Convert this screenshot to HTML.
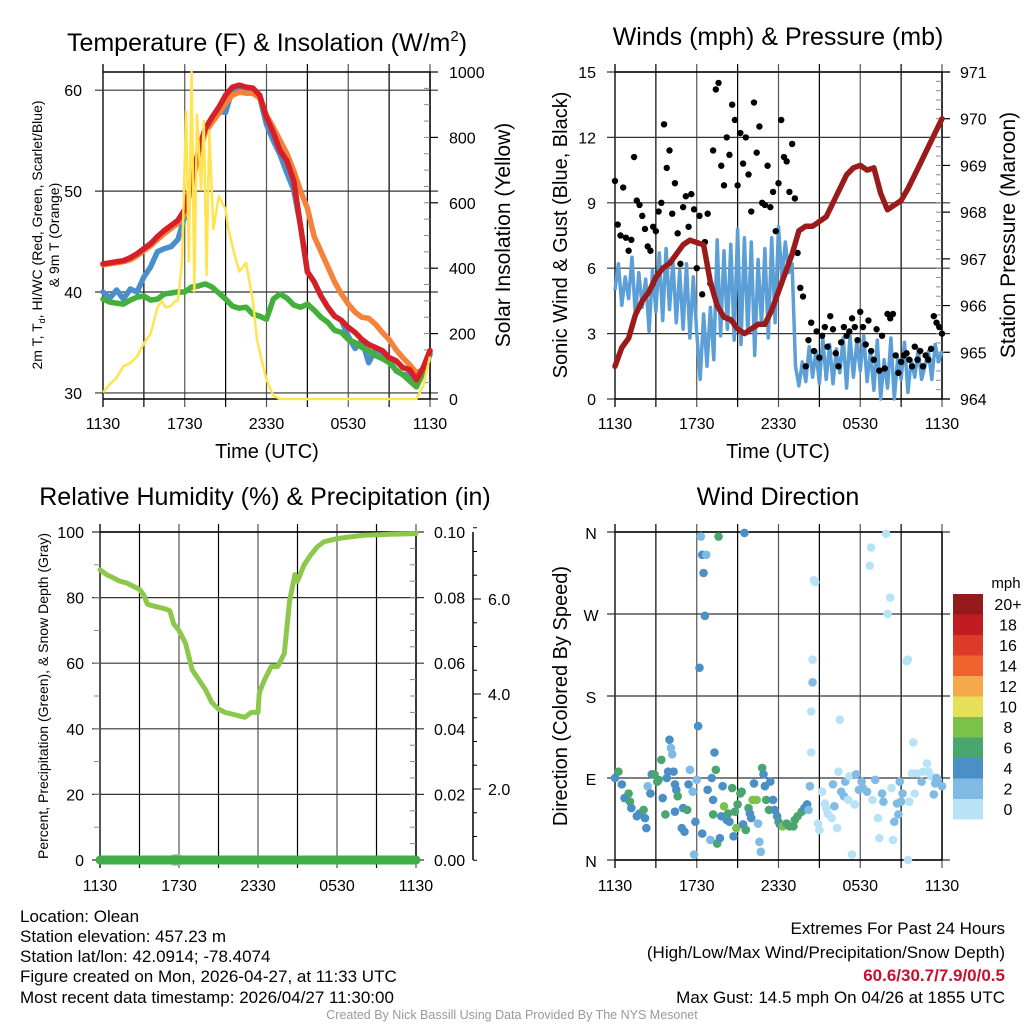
<!DOCTYPE html>
<html><head><meta charset="utf-8">
<style>
html,body{margin:0;padding:0;background:#fff;}
svg{display:block;font-family:"Liberation Sans",Arial,sans-serif;}
</style></head>
<body>
<svg id="chart" width="1024" height="1024" viewBox="0 0 1024 1024" xmlns="http://www.w3.org/2000/svg">
<rect x="0" y="0" width="1024" height="1024" fill="#fff"/>
<g id="layer"></g>
<!-- titles -->
<text x="267" y="51" font-size="25" text-anchor="middle">Temperature (F) &amp; Insolation (W/m<tspan font-size="15" dy="-10">2</tspan><tspan dy="10">)</tspan></text>
<text x="778" y="45" font-size="25" text-anchor="middle">Winds (mph) &amp; Pressure (mb)</text>
<text x="265" y="505" font-size="25" text-anchor="middle">Relative Humidity (%) &amp; Precipitation (in)</text>
<text x="778" y="505" font-size="25" text-anchor="middle">Wind Direction</text>
<!-- axis titles -->
<text transform="translate(42,235) rotate(-90)" font-size="14" text-anchor="middle">2m T, T<tspan font-size="9" dy="3">d</tspan><tspan dy="-3">, HI/WC (Red, Green, Scarlet/Blue)</tspan></text>
<text transform="translate(59,235) rotate(-90)" font-size="14" text-anchor="middle">&amp; 9m T (Orange)</text>
<text transform="translate(510,235) rotate(-90)" font-size="21" text-anchor="middle">Solar Insolation (Yellow)</text>
<text x="267" y="458" font-size="20" text-anchor="middle">Time (UTC)</text>
<text transform="translate(567,235) rotate(-90)" font-size="20" text-anchor="middle">Sonic Wind &amp; Gust (Blue, Black)</text>
<text transform="translate(1015,235) rotate(-90)" font-size="21" text-anchor="middle">Station Pressure (Maroon)</text>
<text x="778" y="458" font-size="20" text-anchor="middle">Time (UTC)</text>
<text transform="translate(48,696) rotate(-90)" font-size="14" text-anchor="middle">Percent, Precipitation (Green), &amp; Snow Depth (Gray)</text>
<text transform="translate(567,696) rotate(-90)" font-size="20" text-anchor="middle">Direction (Colored By Speed)</text>
<!-- footer -->
<g font-size="17">
<text x="20" y="922">Location: Olean</text>
<text x="20" y="942">Station elevation: 457.23 m</text>
<text x="20" y="962">Station lat/lon: 42.0914; -78.4074</text>
<text x="20" y="982">Figure created on Mon, 2026-04-27, at 11:33 UTC</text>
<text x="20" y="1003">Most recent data timestamp: 2026/04/27 11:30:00</text>
</g>
<g font-size="17" text-anchor="end">
<text x="1005" y="934">Extremes For Past 24 Hours</text>
<text x="1005" y="958">(High/Low/Max Wind/Precipitation/Snow Depth)</text>
<text x="1005" y="981" fill="#c8102e" font-weight="bold">60.6/30.7/7.9/0/0.5</text>
<text x="1005" y="1003">Max Gust: 14.5 mph On 04/26 at 1855 UTC</text>
</g>
<text x="512" y="1019" font-size="12.5" fill="#999" text-anchor="middle">Created By Nick Bassill Using Data Provided By The NYS Mesonet</text>
</svg>
<script>
// ---------- data ----------
const timeTicks = ["1130","1730","2330","0530","1130"];
const tempHours = [0,0.5,1,1.5,2,2.5,3,3.5,4,4.5,5,5.5,6,6.5,7,7.5,8,8.5,9,9.5,10,10.5,11,11.5,12,12.5,13,13.5,14,14.5,15,15.5,16,16.5,17,17.5,18,18.5,19,19.5,20,20.5,21,21.5,22,22.5,23,23.5,24];
const tempRed = [42.8,42.9,43,43.1,43.4,43.8,44.3,44.8,45.5,46.1,46.6,47.1,48.2,51,54,56.2,57.3,58.3,59.5,60.3,60.5,60.3,60.2,59.5,57.3,55.8,54,53,51,46.5,42,41,39.6,38.5,37.6,37.2,36.5,36,35.3,34.8,34.5,34.2,33.5,33.2,32.5,32.3,31.3,32.5,34.2];
const tempOrange = [42.7,42.8,42.9,43,43.2,43.6,44.1,44.6,45.2,45.8,46.3,46.8,47.8,50.5,53.5,55.8,56.8,57.7,58.7,59.5,59.8,59.7,59.7,59.2,57.5,56.3,55,53.7,52,50,48.3,45.5,44,42.5,41,39.8,38.8,38,37.5,37.4,36.8,36,35.3,34.3,33.5,32.8,32,32.3,34.2];
const tempBlue = [40,39.4,40.2,39.3,40.3,40,41.5,42.5,44,44.3,44.5,45.2,47.5,50.8,53.8,56,57,57.9,57.8,60.1,60.3,60.1,60,59.3,56.6,55,53.6,51.8,50.1,46.5,42,41,39.6,38.5,37.6,37.2,35.6,34.4,35.2,33,34.3,34,33.3,32.2,31.8,31.8,31.2,32,33.8];
const tempGreen = [39.3,39,38.9,38.8,39.2,39.5,39.6,39.2,39.3,39.8,39.9,40,40,40.5,40.6,40.8,40.5,39.9,39.3,38.6,38.4,38.5,37.8,37.6,37.3,39.3,39.8,39.4,38.7,38.5,38.8,38.2,37.5,37,36.2,36,35.3,35,34.5,34.2,33.7,33.4,33,32.3,31.8,31.2,30.6,32,34];
const solarHours = [0,0.5,1,1.5,2,2.5,3,3.5,4,4.3,4.6,5,5.3,5.5,5.8,6.1,6.3,6.5,6.7,6.9,7.2,7.4,7.6,7.8,8.1,8.5,9,9.2,9.6,10,10.5,11,11.3,11.7,12,12.5,13,18,23,23.5,24];
const solarValues = [20,45,65,100,110,130,170,200,280,300,280,285,300,300,420,880,420,1000,330,870,640,850,380,820,520,620,580,520,450,390,416,300,180,110,60,10,0,0,0,40,130];
const gustHours = [];
const gustValues = [10,8,7.5,9.7,7.4,6.8,7.3,11.1,9.1,8.9,8.4,7.8,7.0,6.8,7.9,7.7,8.6,9.0,12.6,10.6,11.4,8.5,9.9,7.6,6.2,8.8,9.3,7.9,9.4,8.7,6.0,8.4,4.8,7.2,8.5,5.3,11.4,14.2,14.5,10.7,9.8,12.0,11.2,13.5,12.8,9.8,12.2,10.8,12.0,10.3,8.6,13.6,11.3,12.5,9.0,8.9,10.7,8.8,9.5,7.7,9.9,12.8,11.1,10.9,9.5,11.7,9.2,6.7,5.1,4.7,1.5,2.7,3.5,2.2,3.1,1.9,2.9,3.3,2.4,3.8,3.2,2.1,1.5,2.6,3.3,2.9,3.1,3.7,3.3,2.7,4.0,3.3,2.5,3.6,2.2,1.8,3.2,1.3,2.9,1.4,3.9,3.7,3.9,2.0,1.2,1.7,2.0,2.1,1.8,1.5,2.4,1.8,2.2,1.5,2.0,1.8,2.3,3.8,3.5,3.3,3.0];
for (let i = 0; i < gustValues.length; i++) gustHours.push(i * 0.2);
const windValues = [5,6.2,4.3,5.6,4.6,6.5,3.8,5.8,4.2,5.5,3.1,5.9,4.0,6.7,3.6,6.9,4.1,6.3,3.5,5.9,3.2,6.2,2.8,5.6,3.0,0.9,3.9,1.5,4.2,1.8,7.3,2.9,6.8,3.2,7.1,2.7,7.8,2.5,7.4,3.0,7.2,2.0,6.4,3.4,6.9,2.8,7.4,3.5,7.9,5.5,7.2,5.8,6.2,1.5,0.6,1.7,0.8,2.4,1.0,2.2,0.7,2.8,0.9,2.5,0.7,2.3,1.2,2.8,0.5,2.9,1.0,2.6,1.3,2.9,0.8,2.2,0.4,2.7,0,1.8,0.5,2.8,0,1.9,0.9,2.6,0.3,1.8,1.0,2.3,0.9,1.5,2.2,0.9,2.5,1.7,2.2];
const windHours = [];
for (let i = 0; i < windValues.length; i++) windHours.push(i * 0.25);
const pressHours = tempHours;
const pressValues = [964.7,965.1,965.3,965.8,966.1,966.3,966.6,966.8,966.9,967.1,967.3,967.4,967.35,967.3,966.5,966.0,965.75,965.7,965.5,965.4,965.5,965.6,965.6,965.9,966.3,966.7,967.1,967.6,967.7,967.7,967.8,967.9,968.2,968.5,968.8,968.95,969.0,968.9,968.95,968.4,968.05,968.15,968.25,968.5,968.8,969.1,969.4,969.7,970.0];
const rhHours = [0,0.5,1,1.5,2,2.5,3,3.3,3.6,4,4.5,5,5.3,5.6,6,6.5,7,7.5,8,8.5,9,9.5,10,10.5,11,11.5,12,12.1,12.5,13,13.5,14,14.4,14.8,15,15.5,16,16.5,17,18,19,20,22,24];
const rhValues = [88.5,87,86,85,84.5,83.5,82.5,81,78,77.5,77,76.5,76,72,70,66,58,55,52,48,46,45,44.5,44,43.5,45,45,51,55,59,59,63,79,87,85,90,93,95.5,97,98,98.5,99,99.3,99.5];
const precipHours = [0,24];
const precipValues = [0,0];
const dirHours = [0,0.25,0.5,1,0.7,1.1,1.2,1.6,1.8,2.1,2.2,2.3,2.4,2.6,2.7,2.9,3.2,3.1,3.4,3.5,3.7,3.8,3.9,4.0,4.1,4.2,4.3,4.4,4.5,4.6,4.4,4.9,5.1,5.0,5.3,5.4,5.5,5.7,5.8,5.9,6.0,6.1,6.2,6.3,6.4,6.7,6.5,6.6,6.4,6.8,7.0,7.1,7.2,7.2,7.3,7.4,7.5,7.6,7.7,7.8,7.9,8.0,8.2,8.3,8.4,8.6,8.7,8.8,8.9,9.0,9.2,9.3,9.5,9.4,9.6,9.8,9.9,10.0,10.1,10.2,10.4,10.5,10.6,10.7,10.8,10.9,11.0,11.1,11.3,11.4,11.6,11.7,11.9,12.0,12.1,12.3,12.6,12.8,13.1,13.2,13.4,13.7,13.9,14.1,14.2,14.3,14.4,14.4,14.5,14.5,14.6,14.7,14.9,15.0,15.2,15.4,15.5,15.6,15.9,16.0,16.1,16.3,16.4,16.5,16.6,16.8,16.9,17.1,17.2,17.4,17.6,17.7,17.9,18.1,18.2,18.5,18.7,18.8,18.9,19.1,19.3,19.4,19.6,19.7,19.9,20.0,20.2,20.3,20.4,20.5,20.7,20.8,20.9,21.0,21.1,21.4,21.5,21.5,21.6,21.8,21.9,22.0,22.2,22.5,22.6,22.9,23.0,23.2,23.4,23.5,23.6,23.7,24.0];
const dirDegrees = [90,97,83,73,68,64,57,48,51,55,46,35,81,73,94,94,88,86,110,68,50,90,97,132,123,116,97,83,77,70,53,35,31,57,55,83,99,75,6,42,88,147,211,355,335,335,315,268,29,77,22,90,50,66,118,99,18,355,24,48,81,59,44,51,42,79,26,53,35,61,73,75,359,39,33,57,51,46,66,84,66,40,20,9,101,94,81,66,55,86,66,55,48,42,39,37,40,37,37,44,48,53,57,61,55,81,163,118,195,220,307,305,40,33,75,62,57,51,46,83,59,35,97,154,75,70,86,66,92,6,61,94,77,86,79,75,323,343,66,88,46,24,73,64,358,270,288,79,22,42,62,50,86,64,73,218,220,0,64,95,129,73,95,86,97,106,97,92,72,84,90,88,81];
const dirSpeeds = [4,6,4,6,4,6,4,4,4,6,4,4,2,4,4,6,6,6,6,4,6,4,4,4,2,2,4,4,4,6,4,4,4,4,6,4,2,2,2,4,2,4,4,2,4,2,4,4,4,4,2,4,6,4,4,6,6,6,4,4,4,8,4,6,4,6,4,6,8,6,6,6,4,4,6,6,4,4,8,4,8,2,2,2,6,4,4,6,6,4,4,4,4,6,4,8,6,6,6,6,6,6,4,4,2,2,0,0,2,0,0,0,0,0,0,0,0,0,0,2,2,0,0,0,2,2,2,0,0,0,0,2,2,2,2,2,0,0,0,2,0,0,2,2,0,0,0,0,0,2,2,2,2,2,2,0,0,0,0,0,0,0,0,2,0,0,0,0,2,2,2,2,2];
const speedColors = ["#b8e3f7","#7fbbe5","#4a8fc6","#4aa66f","#7bc24a","#e6e05a","#f5a94a","#f0622e","#de3a2a","#c01c22","#951a1d"];
const speedLabels = ["0","2","4","6","8","10","12","14","16","18","20+"];
const tempTicks = [30,40,50,60];
const solarTicks = [0,200,400,600,800,1000];
const windTicks = [0,3,6,9,12,15];
const pressTicks = [964,965,966,967,968,969,970,971];
const rhTicks = [0,20,40,60,80,100];
const precipTicks = ["0.00","0.02","0.04","0.06","0.08","0.10"];
const snowTicks = ["2.0","4.0","6.0"];
const dirTicks = ["N","E","S","W","N"];

// ---------- helpers ----------
const NS = "http://www.w3.org/2000/svg";
const layer = document.getElementById('layer');
function mk(tag, attrs, parent) {
  const e = document.createElementNS(NS, tag);
  for (const k in attrs) e.setAttribute(k, attrs[k]);
  (parent || layer).appendChild(e);
  return e;
}
function panel(x0, x1, y0, y1, vmin, vmax) {
  return {
    x: h => x0 + (x1 - x0) * h / 24,
    y: v => y1 - (y1 - y0) * (v - vmin) / (vmax - vmin),
    x0, x1, y0, y1
  };
}
function pathFrom(xs, ys, sx, sy) {
  let d = "";
  for (let i = 0; i < xs.length; i++) d += (i ? "L" : "M") + sx(xs[i]).toFixed(1) + "," + sy(ys[i]).toFixed(1);
  return d;
}
function text(x, y, s, size, anchor) {
  return mk('text', {x: x, y: y, 'font-size': size, 'text-anchor': anchor || 'middle'});
}
function gridAndFrame(P, hVals, name, tickLabelY) {
  for (let i = 0; i <= 8; i++) {
    const x = P.x(i * 3);
    const l = mk('line', {x1: x, x2: x, y1: P.y0 - 8, y2: P.y1 + 8, stroke: (i % 2 ? '#000' : '#555'), 'stroke-width': (i === 0 ? 2 : 1.2)});
    
    
  }
  hVals.forEach(y => {
    const l = mk('line', {x1: P.x0 - 8, x2: P.x1 + 8, y1: y, y2: y, stroke: '#333', 'stroke-width': 1.2});
    
    
  });
  [P.y0, P.y1].forEach(y => {
    const l = mk('line', {x1: P.x0, x2: P.x1, y1: y, y2: y, stroke: '#000', 'stroke-width': 1.5});
    
    
  });
  const r = mk('line', {x1: P.x1, x2: P.x1, y1: P.y0, y2: P.y1, stroke: '#000', 'stroke-width': 1.5});
  
  
  timeTicks.forEach((t, i) => {
    const tx = text(P.x(i * 6), tickLabelY, t, 16);
    tx.textContent = t;
    
    
  });
}
function minorTicks(P, n, side, name) {
  for (let i = 1; i < n; i++) {
    const y = P.y0 + (P.y1 - P.y0) * i / n;
    const x = side === 'right' ? P.x1 : P.x0;
    const l = mk('line', {x1: x - 6, x2: x, y1: y, y2: y, stroke: '#888', 'stroke-width': 1});
    
    
  }
}

// ---------- Temperature panel ----------
const T = panel(103, 430, 72, 399, 29.4, 61.8);
const S = panel(103, 430, 72, 399, 0, 1000);
gridAndFrame(T, tempTicks.map(T.y), 'temperature', 429);
minorTicks(T, 20, 'right', 'insolation');
tempTicks.forEach(v => {
  const t = text(82, T.y(v) + 6, v, 16, 'end'); t.textContent = v;
  
  
});
solarTicks.forEach(v => {
  const t = text(449, S.y(v) + 6, v, 16, 'start'); t.textContent = v;
  
  
  const k = mk('line', {x1: T.x1, x2: T.x1 + 8, y1: S.y(v), y2: S.y(v), stroke: '#000', 'stroke-width': 1.2});
  
  
});
const clipT = mk('clipPath', {id: 'clipT'});
mk('rect', {x: T.x0 - 6, y: T.y0 - 2, width: T.x1 - T.x0 + 12, height: T.y1 - T.y0 + 4}, clipT);
const gT = mk('g', {'clip-path': 'url(#clipT)'});
[[tempBlue, '#4b8fca', 'heat-index-wind-chill-line'], [tempOrange, '#f5823a', 'nine-meter-temperature-line'], [tempGreen, '#44b03c', 'dewpoint-line'], [tempRed, '#d62027', 'two-meter-temperature-line']].forEach(s => {
  const p = mk('path', {d: pathFrom(tempHours, s[0], T.x, T.y), fill: 'none', stroke: s[1], 'stroke-width': 5.5, 'stroke-linejoin': 'round', 'stroke-linecap': 'round'}, gT);
  
  
});
const solarLine = mk('path', {d: pathFrom(solarHours, solarValues, S.x, S.y), fill: 'none', stroke: '#ffe34f', 'stroke-width': 2.5, 'stroke-linejoin': 'round'}, gT);



// ---------- Wind panel ----------
const W = panel(615, 942, 72, 399, 0, 15);
const Pp = panel(615, 942, 72, 399, 964, 971);
gridAndFrame(W, windTicks.map(W.y), 'wind', 429);
minorTicks(W, 35, 'right', 'pressure');
windTicks.forEach(v => {
  const t = text(596, W.y(v) + 6, v, 16, 'end'); t.textContent = v;
  
  
});
pressTicks.forEach(v => {
  const t = text(960, Pp.y(v) + 6, v, 16, 'start'); t.textContent = v;
  
  
  const k = mk('line', {x1: W.x1, x2: W.x1 + 8, y1: Pp.y(v), y2: Pp.y(v), stroke: '#000', 'stroke-width': 1.2});
  
  
});
const windLine = mk('path', {d: pathFrom(windHours, windValues, W.x, W.y), fill: 'none', stroke: '#5b9fd6', 'stroke-width': 3.5, 'stroke-linejoin': 'round'});


gustHours.forEach((h, i) => {
  const c = mk('circle', {cx: W.x(h), cy: W.y(gustValues[i]), r: 3.2, fill: '#000'});
  
  
});
const pressLine = mk('path', {d: pathFrom(pressHours, pressValues, Pp.x, Pp.y), fill: 'none', stroke: '#9b1b1b', 'stroke-width': 5.5, 'stroke-linejoin': 'round', 'stroke-linecap': 'round'});



// ---------- RH panel ----------
const R = panel(100, 416, 532, 860, 0, 100);
gridAndFrame(R, rhTicks.map(R.y), 'humidity', 891);
minorTicks(R, 20, 'right', 'precipitation');
for (let i = 1; i < 10; i++) {
  const y = R.y(i * 10);
  const l = mk('line', {x1: R.x0 - 6, x2: R.x0, y1: y, y2: y, stroke: '#888', 'stroke-width': 1});
  
  
}
rhTicks.forEach((v, i) => {
  const t = text(84, R.y(v) + 6, v, 16, 'end'); t.textContent = v;
  
  
  const p = text(434, R.y(v) + 6, precipTicks[i], 16, 'start'); p.textContent = precipTicks[i];
  
  
});
const snowAxis = mk('line', {x1: 473, x2: 473, y1: 532, y2: 860, stroke: '#000', 'stroke-width': 1.5});


const snowY = v => 884 - v * 47.5;
for (let v = 0.5; v <= 7.5; v += 0.5) {
  const major = Math.abs(v % 2) < 0.01;
  const l = mk('line', {x1: 473, x2: 473 + (major ? 8 : 4), y1: snowY(v), y2: snowY(v), stroke: '#000', 'stroke-width': 1});
  
  
}
snowTicks.forEach(s => {
  const t = text(488, snowY(parseFloat(s)) + 6, s, 16, 'start'); t.textContent = s;
  
  
});
const rhLine = mk('path', {d: pathFrom(rhHours, rhValues, R.x, R.y), fill: 'none', stroke: '#8cc84b', 'stroke-width': 5, 'stroke-linejoin': 'round', 'stroke-linecap': 'round'});


const snowBlob = mk('ellipse', {cx: R.x(5.8), cy: 860, rx: 9, ry: 6, fill: '#bbb'});


const precipLine = mk('path', {d: pathFrom(precipHours, precipValues, R.x, v => R.y(v * 1000)), fill: 'none', stroke: '#3fae49', 'stroke-width': 9, 'stroke-linecap': 'round'});



// ---------- Direction panel ----------
const D = panel(615, 942, 532, 860, 0, 360);
gridAndFrame(D, [0, 90, 180, 270, 360].map(D.y), 'direction', 891);
dirTicks.forEach((s, i) => {
  const t = text(591, D.y(i * 90) + 7, s, 16); t.textContent = s;
  
  
});
dirHours.forEach((h, i) => {
  const ci = Math.min(10, Math.floor(dirSpeeds[i] / 2));
  const c = mk('circle', {cx: D.x(h), cy: D.y(dirDegrees[i]), r: 4.3, fill: speedColors[ci]});
  
  
});
// legend
const mphLabel = text(1006, 588, 'mph', 15); mphLabel.textContent = 'mph';


speedColors.forEach((c, i) => {
  const top = 594 + (10 - i) * 20.5;
  const r = mk('rect', {x: 953, y: top, width: 30, height: 20.5, fill: c});
  
  
  const t = text(1008, top + 16, speedLabels[i], 16); t.textContent = speedLabels[i];
  
  
});
</script>
</body></html>
